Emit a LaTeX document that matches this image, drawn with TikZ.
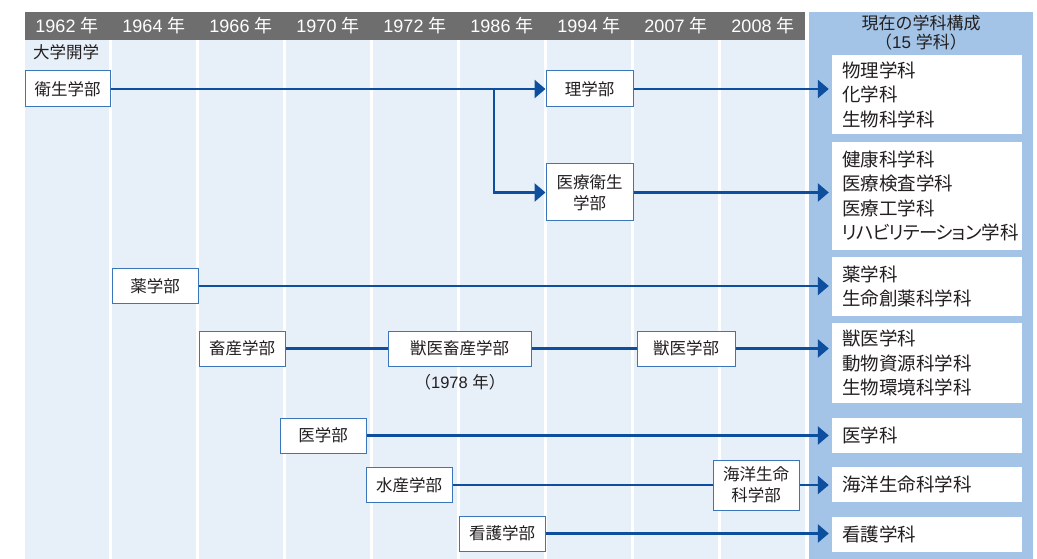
\documentclass[tikz,border=0pt]{standalone}
\usepackage{fontspec}
\setmainfont{Noto Sans CJK JP}
\newfontfamily\jpp{Noto Sans CJK JP}[RawFeature={+palt}]
\newfontfamily\latn{Liberation Sans}
\usetikzlibrary{arrows.meta}
\definecolor{hdrgray}{HTML}{6E6E6E}
\definecolor{colfill}{HTML}{E7EFF9}
\definecolor{panelblue}{HTML}{A3C4E7}
\definecolor{linkblue}{HTML}{0D4F9E}
\definecolor{boxblue}{HTML}{3B76BB}
\definecolor{txt}{HTML}{231F20}
\tikzset{
  yearlbl/.style={text=white,font=\fontsize{18}{20}\selectfont,inner sep=0pt},
  fac/.style={draw=boxblue,line width=1pt,fill=white,text=txt,align=center,
    minimum height=35pt,inner sep=0pt,font=\fontsize{16.5}{21}\selectfont},
  dept/.style={fill=white,text=txt,align=left,text width=170pt,inner xsep=10pt,inner ysep=0pt,
    font=\jpp\fontsize{18.5}{24.5}\selectfont},
  conn/.style={draw=linkblue,line width=2.8pt},
  arr/.style={conn,-{Triangle[length=11pt,width=18pt]}},
  plain/.style={text=txt,inner sep=0pt,font=\fontsize{16.5}{20}\selectfont}
}
\begin{document}
\begin{tikzpicture}[x=1pt,y=-1pt]
\useasboundingbox (0,0) rectangle (1037,559);
% columns
\foreach \k in {0,...,8}{
  \fill[colfill] ({25+87*\k},40) rectangle ({109+87*\k},559);
}
\fill[hdrgray] (25,12) rectangle (805,40);
\foreach \k/\yr in {0/1962,1/1964,2/1966,3/1970,4/1972,5/1986,6/1994,7/2007,8/2008}{
  \node[yearlbl] (yr\k) at ({67+87*\k},26) {{\latn\yr\ }年};
}
\fill[panelblue] (809,12) rectangle (1033,559);
\node[plain,font=\fontsize{17}{19}\selectfont] (ttl1) at (921,23) {現在の学科構成};
\node[plain,font=\fontsize{17}{19}\selectfont] (ttl2) at (921,42) {（{\latn 15 }学科）};
\node[plain,anchor=west] (open) at (33,52) {大学開学};

% department boxes (right)
\node[dept,minimum height=79pt] (d1) at (927,94.5) {物理学科\\化学科\\生物科学科};
\node[dept,minimum height=108pt] (d2) at (927,196) {健康科学科\\医療検査学科\\医療工学科\\{\addfontfeature{LetterSpace=-5}リハビリテーション}学科};
\node[dept,minimum height=59pt] (d3) at (927,286.5) {薬学科\\生命創薬科学科};
\node[dept,minimum height=80pt] (d4) at (927,363) {獣医学科\\動物資源科学科\\生物環境科学科};
\node[dept,minimum height=35pt] (d5) at (927,435.5) {医学科};
\node[dept,minimum height=35pt] (d6) at (927,484.5) {海洋生命科学科};
\node[dept,minimum height=35pt] (d7) at (927,534.5) {看護学科};

% faculty boxes
\node[fac,minimum width=85pt,minimum height=36pt] (eisei) at (67.5,89) {衛生学部};
\node[fac,minimum width=87pt,minimum height=36pt] (rigaku) at (589.5,89) {理学部};
\node[fac,minimum width=87pt,minimum height=57pt] (iryo) at (589.5,192.5) {医療衛生\\学部};
\node[fac,minimum width=86pt] (yaku) at (155,286) {薬学部};
\node[fac,minimum width=86pt] (chiku) at (242,348.5) {畜産学部};
\node[fac,minimum width=143pt] (juichiku) at (459.5,348.5) {獣医畜産学部};
\node[plain] (y1978) at (460,382) {（{\latn 1978 }年）};
\node[fac,minimum width=98pt] (jui) at (686,348.5) {獣医学部};
\node[fac,minimum width=86pt] (igaku) at (323,435.5) {医学部};
\node[fac,minimum width=86pt] (suisan) at (409,485) {水産学部};
\node[fac,minimum width=86pt,minimum height=50pt] (kaiyo) at (756,485) {海洋生命\\科学部};
\node[fac,minimum width=86pt] (kango) at (502,533.5) {看護学部};

% connectors
\coordinate (br) at (494,89);
\draw[arr] (eisei.east) -- (rigaku.west);
\draw[arr] (br) |- (iryo.west);
\draw[arr,shorten >=3pt] (rigaku.east) -- (rigaku.east -| d1.west);
\draw[arr,shorten >=3pt] (iryo.east) -- (iryo.east -| d2.west);
\draw[arr,shorten >=3pt] (yaku.east) -- (yaku.east -| d3.west);
\draw[conn] (chiku.east) -- (juichiku.west);
\draw[conn] (juichiku.east) -- (jui.west);
\draw[arr,shorten >=3pt] (jui.east) -- (jui.east -| d4.west);
\draw[arr,shorten >=3pt] (igaku.east) -- (igaku.east -| d5.west);
\draw[conn] (suisan.east) -- (kaiyo.west);
\draw[arr,shorten >=3pt] (kaiyo.east) -- (kaiyo.east -| d6.west);
\draw[arr,shorten >=3pt] (kango.east) -- (kango.east -| d7.west);
\end{tikzpicture}
\end{document}
